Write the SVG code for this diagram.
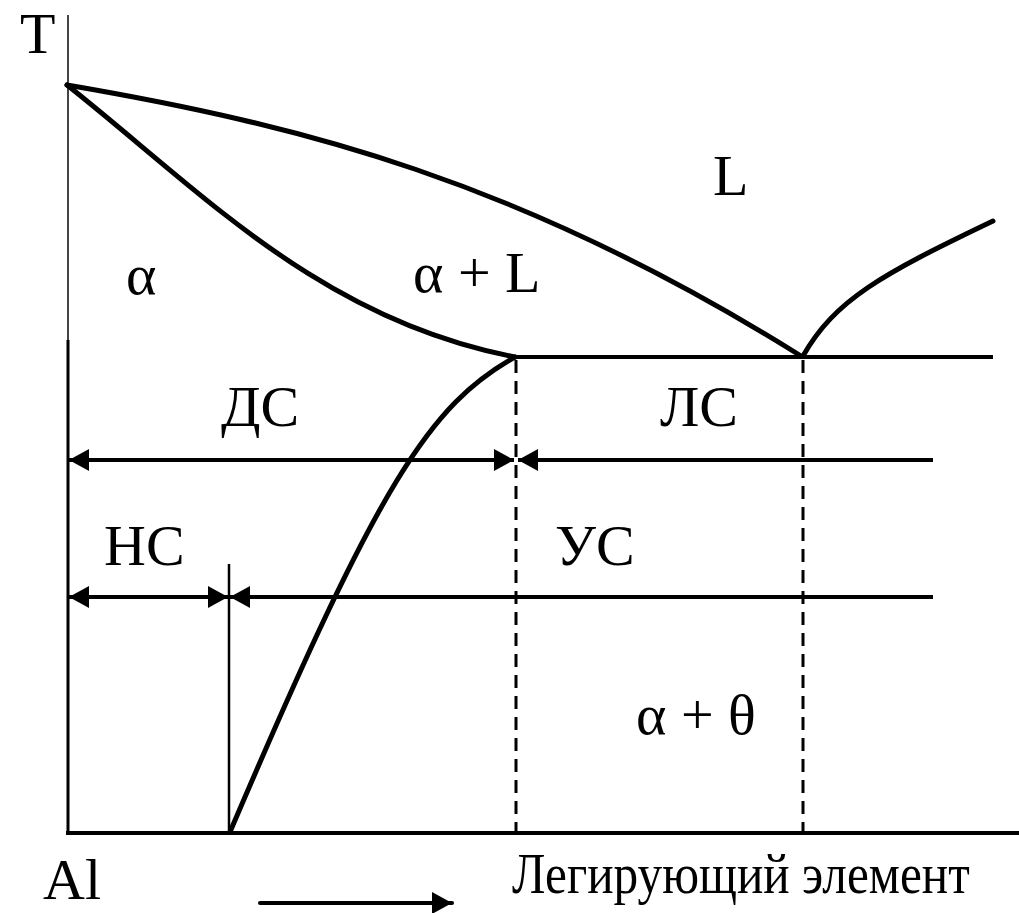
<svg xmlns="http://www.w3.org/2000/svg" width="1019" height="913" viewBox="0 0 1019 913">
<style>
.t{font-family:"Liberation Serif","Times New Roman",serif;font-size:58px;fill:#000}
.c{fill:none;stroke:#000;stroke-width:5;stroke-linecap:round}
.l{fill:none;stroke:#000;stroke-width:4}
.d{fill:none;stroke:#000;stroke-width:3;stroke-dasharray:13 8}
</style>
<defs>
<marker id="ah" viewBox="0 0 20 22" refX="20" refY="11" markerWidth="20" markerHeight="22" markerUnits="userSpaceOnUse" orient="auto-start-reverse">
<path d="M0,0 L20,11 L0,22 Z" fill="#000"/>
</marker>
</defs>
<rect width="1019" height="913" fill="#fff"/>
<g id="axes">
<line x1="68" y1="15" x2="68" y2="342" stroke="#444" stroke-width="2"/>
<line x1="68" y1="340" x2="68" y2="834" stroke="#000" stroke-width="3"/>
<line x1="66" y1="833" x2="1019" y2="833" stroke="#000" stroke-width="4"/>
</g>
<g id="curves">
<path class="c" d="M67,85 C300,125 520,180 801,356"/>
<path class="c" d="M803,356 C835,300 880,275 993,221"/>
<path class="c" d="M67,85 C200,190 320,320 515,357"/>
<path class="c" d="M515,357 C430,405 380,480 230,832"/>
<line class="l" x1="513" y1="357" x2="993" y2="357"/>
<line class="d" x1="516" y1="360" x2="516" y2="832"/>
<line class="d" x1="803" y1="360" x2="803" y2="832"/>
<line x1="229" y1="564" x2="229" y2="832" stroke="#000" stroke-width="2.5"/>
</g>
<g id="connectors">
<line class="l" x1="69" y1="460" x2="514" y2="460" marker-start="url(#ah)" marker-end="url(#ah)"/>
<line class="l" x1="518" y1="460" x2="933" y2="460" marker-start="url(#ah)"/>
<line class="l" x1="69" y1="597" x2="228" y2="597" marker-start="url(#ah)" marker-end="url(#ah)"/>
<line class="l" x1="230" y1="597" x2="933" y2="597" marker-start="url(#ah)"/>
<line x1="260" y1="903" x2="452" y2="903" stroke="#000" stroke-width="4" stroke-linecap="round" marker-end="url(#ah)"/>
</g>
<g id="labels">
<text class="t" x="20" y="53" font-size="60">T</text>
<text class="t" x="126" y="294">α</text>
<text class="t" x="413" y="292">α + L</text>
<text class="t" x="713" y="195">L</text>
<text class="t" x="221" y="426">ДС</text>
<text class="t" x="660" y="426">ЛС</text>
<text class="t" x="104" y="565">НС</text>
<text class="t" x="555" y="565">УС</text>
<text class="t" x="636" y="734">α + θ</text>
<text class="t" x="43" y="899" font-size="58">Al</text>
<text class="t" transform="translate(512,893) scale(0.85,1)" font-size="53">Легирующий элемент</text>
</g>
</svg>
